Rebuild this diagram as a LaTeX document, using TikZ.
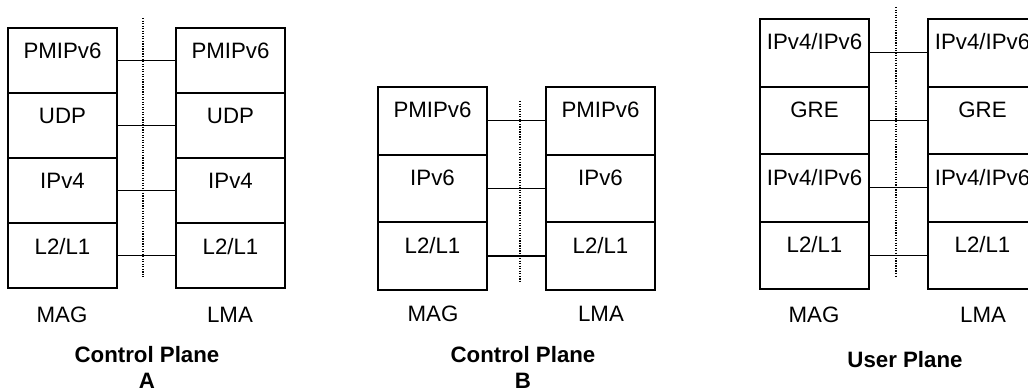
\documentclass[tikz,border=0pt]{standalone}
\usepackage{fontspec}
\setmainfont{Liberation Sans}
\usetikzlibrary{positioning}

\tikzset{
  layer/.style={draw, line width=1.5pt, inner sep=0pt, outer sep=0pt,
    minimum width=81.75pt, text height=23.25pt, text depth=#1},
  layer/.default=27.4pt,
  link/.style={line width=1pt},
  split/.style={densely dotted, line width=0.9pt},
  title/.style={font=\fontsize{16.7pt}{19.5pt}\selectfont\bfseries, align=center},
}

\begin{document}
\begin{tikzpicture}[x=0.75pt, y=-0.75pt, font=\fontsize{16.7pt}{19.5pt}\selectfont]
  \useasboundingbox (0,0) rectangle (1028,392);
  \clip (0,0) rectangle (1028,392);

  % control plane A
  \node[layer=25.5pt, anchor=north west] (mA1) at (8,28) {PMIPv6};
  \node[layer=25.5pt, below=0pt of mA1] (mA2) {UDP};
  \node[layer=25.5pt, below=0pt of mA2] (mA3) {IPv4};
  \node[layer=25.5pt, below=0pt of mA3] (mA4) {L2/L1};
  \node[layer=25.5pt, right=44.25pt of mA1] (lA1) {PMIPv6};
  \node[layer=25.5pt, below=0pt of lA1] (lA2) {UDP};
  \node[layer=25.5pt, below=0pt of lA2] (lA3) {IPv4};
  \node[layer=25.5pt, below=0pt of lA3] (lA4) {L2/L1};
  \foreach \i in {1,...,4}
    \draw[link] (mA\i.east) -- (lA\i.west);
  \draw[split] (143,18) -- (143,277);
  \node (magA) at (62,315) {MAG};
  \node (lmaA) at (230,315) {LMA};
  \node[title] (ctlA) at (147,367) {Control Plane\\A};

  % control plane B
  \node[layer, anchor=north west] (mB1) at (378,87) {PMIPv6};
  \node[layer, below=0pt of mB1] (mB2) {IPv6};
  \node[layer, below=0pt of mB2] (mB3) {L2/L1};
  \node[layer, right=44.25pt of mB1] (lB1) {PMIPv6};
  \node[layer, below=0pt of lB1] (lB2) {IPv6};
  \node[layer, below=0pt of lB2] (lB3) {L2/L1};
  \foreach \i in {1,...,3}
    \draw[link] (mB\i.east) -- (lB\i.west);
  \draw[split] (520,101) -- (520,283);
  \node (magB) at (433,314) {MAG};
  \node (lmaB) at (601,314) {LMA};
  \node[title] (ctlB) at (523,367) {Control Plane\\B};

  % user plane
  \node[layer, anchor=north west] (mC1) at (760,19) {IPv4/IPv6};
  \node[layer, below=0pt of mC1] (mC2) {GRE};
  \node[layer, below=0pt of mC2] (mC3) {IPv4/IPv6};
  \node[layer, below=0pt of mC3] (mC4) {L2/L1};
  \node[layer, right=44.25pt of mC1] (lC1) {IPv4/IPv6};
  \node[layer, below=0pt of lC1] (lC2) {GRE};
  \node[layer, below=0pt of lC2] (lC3) {IPv4/IPv6};
  \node[layer, below=0pt of lC3] (lC4) {L2/L1};
  \foreach \i in {1,...,4}
    \draw[link] (mC\i.east) -- (lC\i.west);
  \draw[split] (896,7) -- (896,277);
  \node (magC) at (814,315) {MAG};
  \node (lmaC) at (983,315) {LMA};
  \node[title] (usr) at (905,360) {User Plane};
\end{tikzpicture}
\end{document}
